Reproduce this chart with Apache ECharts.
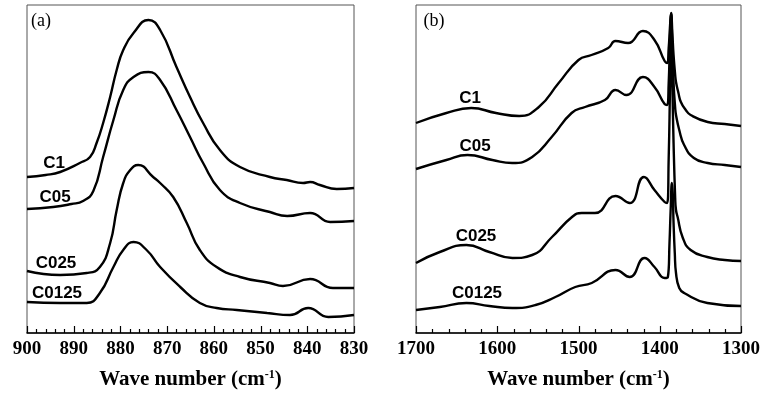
<!DOCTYPE html>
<html>
<head>
<meta charset="utf-8">
<script src="https://cdn.jsdelivr.net/npm/echarts@6/dist/echarts.min.js"></script>
<style>
  html, body { margin: 0; padding: 0; background: #fff; }
  #chart { width: 763px; height: 395px; }
</style>
</head>
<body>
<div id="chart"></div>
<script>
// panel (a): wave number vs. offset absorbance (arbitrary units)
var a_C1 = [[900,156],[896,158],[892.9,161],[888.7,170],[886.5,176],[885.1,190],[883.7,210],[882.2,236],[880.8,263],[879.4,283],
  [877.2,300],[874,313],[871.5,303],[868,266],[865.1,236],[862.3,210],[858.7,183],[854.4,166],[848,156],[844.4,153],
  [840.9,150],[839.4,151],[837.3,148],[833.7,144],[830,145]];
var a_C05 = [[900,124],[894.4,126],[890.5,129],[888,132],[885.8,142],[883.7,176],[881.5,213],[879.4,243],[877.2,256],[874,261],
  [871.5,253],[868,223],[865.1,196],[862.3,170],[858.7,143],[854.4,130],[848,121],[844.3,117],[839.4,120],[835.1,111],[830,112]];
var a_C025 = [[900,62],[892.9,58],[887.2,60],[884.4,66],[882.2,90],[880.8,123],[879.4,150],[877.9,163],[876.2,168],[873,156],
  [871.5,150],[868.7,136],[865.8,110],[863,83],[859.4,66],[854.4,56],[848,50],[845.2,47],[839.4,54],[834.5,45],[830,45]];
var a_C0125 = [[900,31],[892.9,30],[887.2,30],[884.4,40],[881.5,66],[879.4,83],[877.2,91],[874.4,83],[871.5,66],[867.2,46],
  [863,30],[859.4,25],[855.1,23],[848.6,20],[843.7,18],[839.8,25],[835.5,16],[830,18]];

// panel (b)
var b_C1 = [[1700,210],[1662.6,220],[1632,225],[1601.6,220],[1573,217],[1548.8,226],[1524.4,250],[1500,273],[1484,278],
  [1463.4,285],[1454.5,292],[1439,290],[1420.7,302],[1406.5,293],[1394,272],[1391,270],[1389,285],[1387.5,305],[1386,320],
  [1384.5,300],[1383,278],[1381,258],[1380,251],[1377,240],[1374,231],[1368,223],[1362,218],[1341,211],[1320,209],[1300,207]];
var b_C05 = [[1700,164],[1662.6,173],[1636.6,178],[1606,173],[1581.7,170],[1557,176],[1533,196],[1508.5,220],[1491.9,226],
  [1467.5,233],[1454.5,243],[1441,238],[1420.7,256],[1406.5,246],[1394,229],[1391,228],[1389,250],[1387.5,290],[1386,319],
  [1384.5,285],[1383,250],[1381,225],[1380,218],[1376,203],[1370,188],[1358,175],[1341,170],[1320,168],[1300,166]];
var b_C025 = [[1700,70],[1670.7,81],[1638,88],[1609.8,81],[1581.3,75],[1557,78],[1532.6,96],[1508,116],[1496,120],
  [1479.7,120],[1454.5,137],[1437,130],[1419.5,156],[1406.5,143],[1394,131],[1391,130],[1389,175],[1387.5,240],[1386,316],
  [1384.5,250],[1383,190],[1381,135],[1380,123],[1378,116],[1372,96],[1362,83],[1341.5,76],[1320,73],[1300,72]];
var b_C0125 = [[1700,23],[1670.7,26],[1638,30],[1609.8,27],[1581.3,25],[1552.8,28],[1528.4,36],[1504,46],[1483.7,50],
  [1454.5,63],[1437,56],[1418.7,75],[1406.5,66],[1394,55],[1390,56],[1388,90],[1386.5,125],[1385,150],[1384,140],
  [1383,110],[1381.5,80],[1380,60],[1376,45],[1370,40],[1341.5,30],[1300,27]];

var seriesNames = ['C1', 'C05', 'C025', 'C0125'];
var aData = [a_C1, a_C05, a_C025, a_C0125];
var bData = [b_C1, b_C05, b_C025, b_C0125];

// tick steps: [minor, major]
var aTicks = [2, 10];
var bTicks = [20, 100];

var myChart = echarts.init(document.getElementById('chart'));

// wave number runs high -> low; the axis is laid out on -wavenumber
function flip(arr) {
  return arr.map(function (p) { return [-p[0], p[1]]; });
}

function xAxisFor(idx, min, max, interval) {
  return {
    type: 'value', gridIndex: idx, min: -max, max: -min, interval: interval,
    axisLine: {show: true, onZero: false, lineStyle: {color: '#000', width: 1.5}},
    axisTick: {show: false},
    splitLine: {show: false},
    axisLabel: {
      margin: 7, color: '#000', fontFamily: 'Liberation Serif', fontWeight: 'bold', fontSize: 19,
      formatter: function (v) { return String(-v); }
    },
    name: '{t|Wave number (cm}{s|-1}{t|)}',
    nameLocation: 'middle',
    nameGap: 36,
    nameTextStyle: {
      rich: {
        t: {fontFamily: 'Liberation Serif', fontWeight: 'bold', fontSize: 21, color: '#000'},
        s: {fontFamily: 'Liberation Serif', fontWeight: 'bold', fontSize: 12, color: '#000', verticalAlign: 'top', padding: [0, 0, 7, 0]}
      }
    }
  };
}

var series = [];
for (var i = 0; i < 4; i++) {
  series.push({name: 'a ' + seriesNames[i], type: 'line', xAxisIndex: 0, yAxisIndex: 0, data: flip(aData[i]),
    showSymbol: false, smooth: 0.5, lineStyle: {color: '#000', width: 2.4}});
  series.push({name: 'b ' + seriesNames[i], type: 'line', xAxisIndex: 1, yAxisIndex: 1, data: flip(bData[i]),
    showSymbol: false, smooth: 0.5, lineStyle: {color: '#000', width: 2.4}});
}

// curve labels
var labelFont = 'bold 17px "Liberation Sans", Arial, sans-serif';
function label(text, x, y, font) {
  return {type: 'text', x: x, y: y, style: {text: text, font: font || labelFont, fill: '#000', align: 'center', verticalAlign: 'middle'}};
}
var labels = [
  label('(a)', 41, 21, '18px "Liberation Serif", serif'),
  label('(b)', 434, 21, '18px "Liberation Serif", serif'),
  label('C1', 54, 163), label('C05', 55, 197), label('C025', 56, 263), label('C0125', 57, 293),
  label('C1', 470, 98), label('C05', 475, 146), label('C025', 476, 236), label('C0125', 477, 293)
];

var option = {
  animation: false,
  backgroundColor: '#fff',
  grid: [
    {left: 27, top: 5, width: 327, height: 328, show: true, borderColor: '#555', borderWidth: 1},
    {left: 416, top: 5, width: 328, height: 328, show: true, borderColor: '#555', borderWidth: 1}
  ],
  xAxis: [xAxisFor(0, 830, 900, 10), xAxisFor(1, 1300, 1700, 100)],
  yAxis: [
    {type: 'value', gridIndex: 0, min: 0, max: 328, show: false},
    {type: 'value', gridIndex: 1, min: 0, max: 328, show: false}
  ],
  graphic: labels,
  series: series
};

myChart.setOption(option);

// inward ticks, placed through the axes' own scales once the chart is laid out
function ticksFor(idx, min, max, steps) {
  var out = [];
  var y0 = myChart.convertToPixel({yAxisIndex: idx}, 0);
  for (var v = min; v <= max; v += steps[0]) {
    var x = Math.round(myChart.convertToPixel({xAxisIndex: idx}, -v)) + 0.5;
    var len = v % steps[1] === 0 ? 7 : 4;
    out.push({type: 'line', z: 100, silent: true,
      shape: {x1: x, y1: y0, x2: x, y2: y0 - len},
      style: {stroke: '#000', lineWidth: 1.2}});
  }
  return out;
}
myChart.setOption({
  graphic: labels.concat(ticksFor(0, 830, 900, aTicks), ticksFor(1, 1300, 1700, bTicks))
});
</script>
</body>
</html>
